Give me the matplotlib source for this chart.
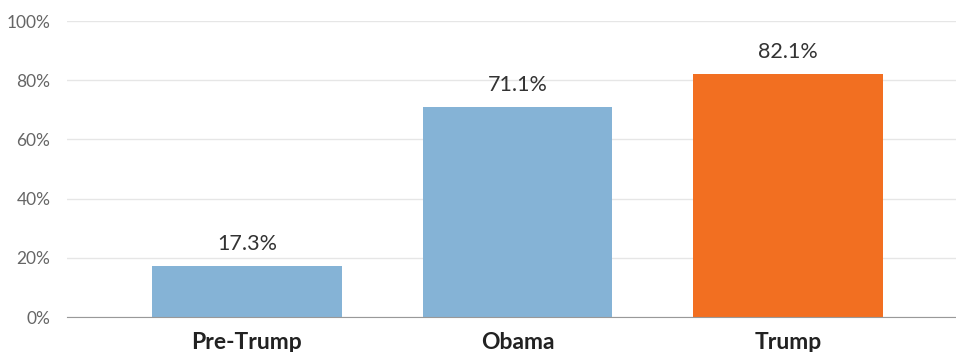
import matplotlib.pyplot as plt

categories = ['Pre-Trump', 'Obama', 'Trump']
values = [17.3, 71.1, 82.1]
colors = ['#85b3d6', '#85b3d6', '#f26f21']
yticks = [0, 20, 40, 60, 80, 100]

plt.rcParams['font.family'] = ['Lato', 'DejaVu Sans']

fig = plt.figure(figsize=(9.56, 3.52), dpi=100)
ax = fig.add_axes([0.0701, 0.0994, 0.9299, 0.8409])

x = range(len(categories))
ax.bar(x, values, width=0.70, color=colors, zorder=3)
for i, v in enumerate(values):
    ax.text(i, v + 4, '%.1f%%' % v, ha='center', va='bottom', fontsize=15.5,
            color='#333333')

ax.set_xlim(-0.665, 2.62)
ax.set_ylim(0, 100)
ax.set_yticks(yticks)
ax.set_yticklabels(['%d%%' % t for t in yticks], fontsize=12.5, color='#666666')
ax.set_xticks(list(x))
ax.set_xticklabels(categories, fontsize=16.5, fontweight='bold', color='#222222')
ax.tick_params(axis='both', length=0)
ax.tick_params(axis='y', pad=12)
ax.tick_params(axis='x', pad=11)
ax.grid(axis='y', color='#e6e6e6', linewidth=1, zorder=0)
for s in ['top', 'right', 'left']:
    ax.spines[s].set_visible(False)
ax.spines['bottom'].set_color('#999999')
ax.spines['bottom'].set_zorder(4)

fig.savefig('out.png', dpi=100)
